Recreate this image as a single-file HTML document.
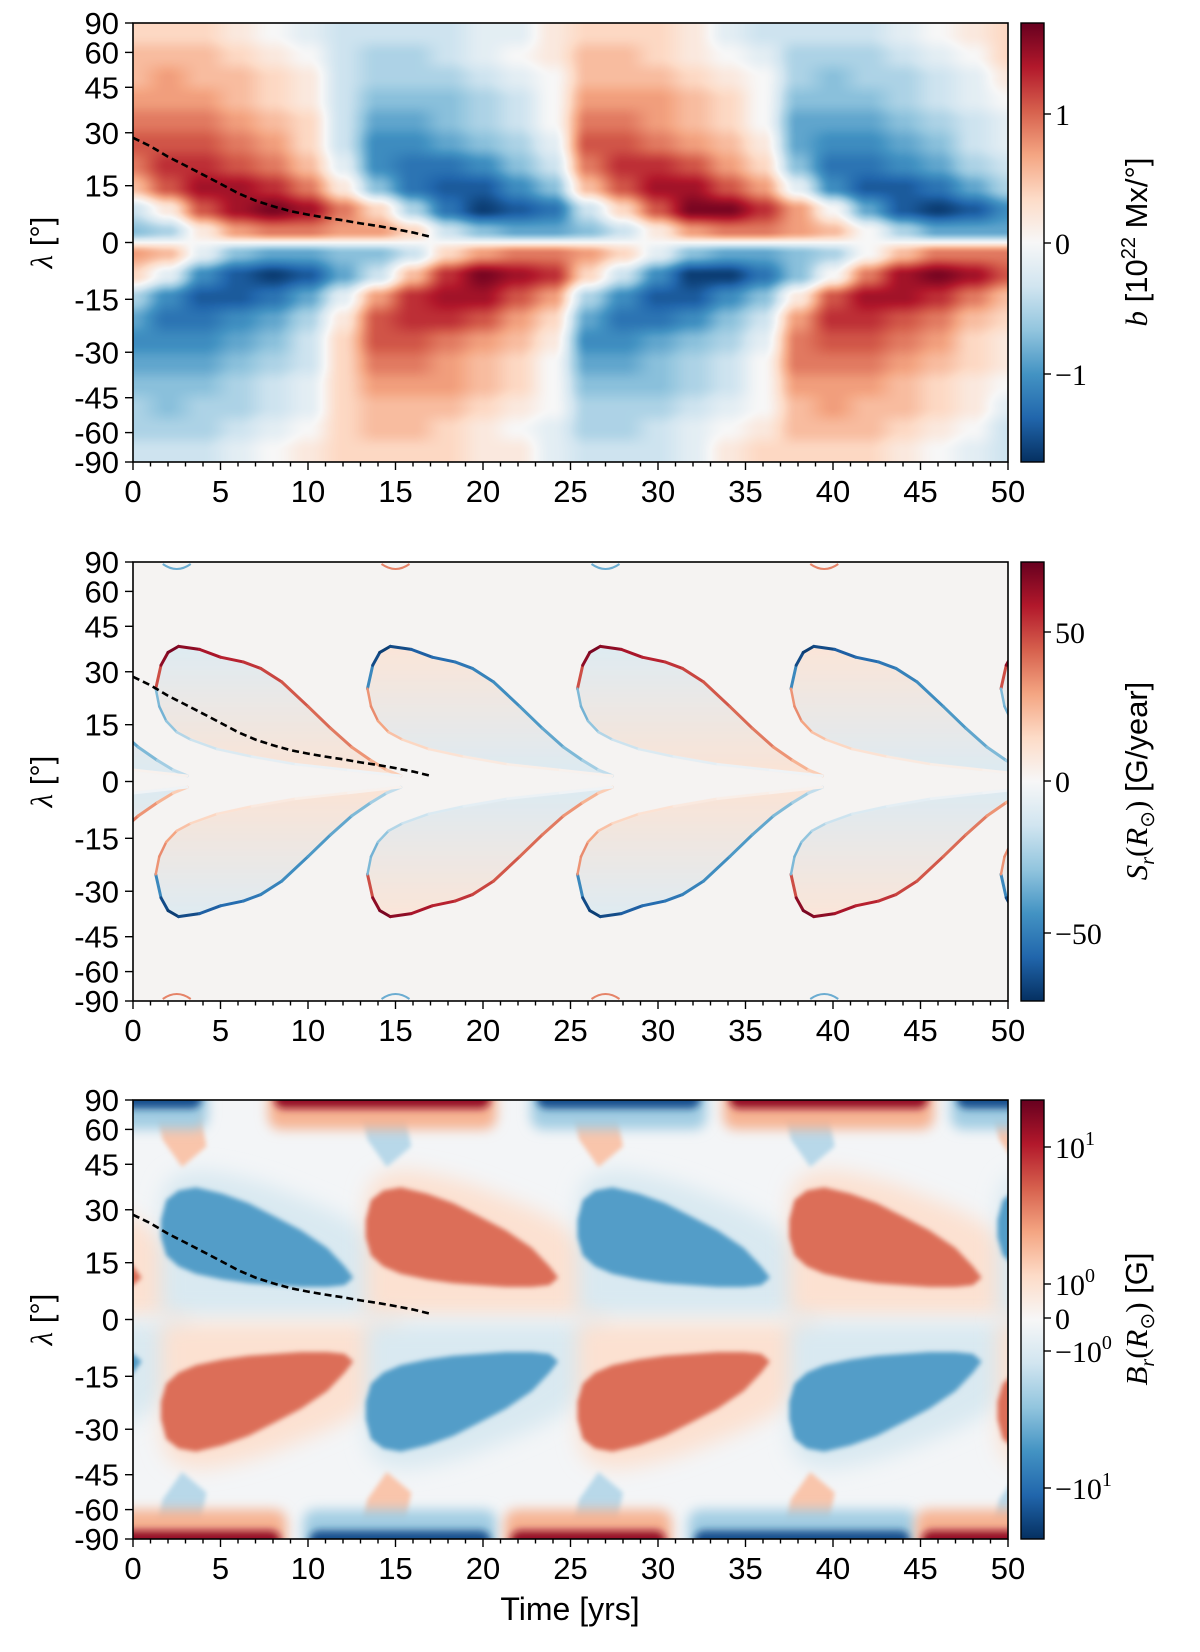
<!DOCTYPE html>
<html><head><meta charset="utf-8">
<style>
body{margin:0;background:#fff;width:1200px;height:1652px;position:relative;overflow:hidden}
#c1{position:absolute;left:133px;top:23px}
#s{position:absolute;left:0;top:0}
text{font-family:"Liberation Sans",sans-serif;fill:#000}
.m{font-family:"Liberation Serif",serif}
</style></head>
<body>
<canvas id="c1" width="875" height="439"></canvas>
<svg id="s" width="1200" height="1652" xmlns="http://www.w3.org/2000/svg"></svg>
<script>
// ---------- data ----------
const times=[0,2,4,6,8,10,12,14,16,18,20,22,24,26,28,30,32,34,36,38,40,42,44,46,48,50];
const p1Lats=[71.8,58.2,48.6,40.5,33.4,26.7,20.5,14.5,8.6,2.9];
const p1Cols=[
[2,3,3,4,5,6,5,3,-2,-4],[2,3,4,4,5,6,7,6,1,-3],[2,3,3,4,5,6,7,8,6,1],[1,2,3,3,4,5,6,8,8,4],
[0,1,2,2,3,4,5,7,9,5],[-1,0,1,1,2,2,3,5,8,5],[-2,-2,-2,-2,-2,-2,-1,1,5,4],[-2,-3,-3,-4,-5,-6,-6,-4,2,4],
[-2,-3,-3,-4,-5,-6,-7,-7,-3,2],[-2,-2,-3,-4,-4,-5,-7,-8,-7,-2],[-1,-1,-2,-3,-3,-4,-6,-8,-9,-4],[-1,0,-1,-2,-2,-3,-4,-6,-8,-5],
[1,1,0,0,0,-1,-2,-4,-7,-5],[2,3,3,4,5,6,5,3,-2,-4],[2,3,3,4,5,6,7,6,2,-2],[2,2,3,4,4,5,7,8,6,1],
[1,1,2,3,3,4,6,8,9,4],[-1,0,1,2,2,3,4,6,9,5],[-2,-1,0,0,0,1,2,4,7,5],[-2,-3,-3,-4,-5,-5,-4,-1,4,4],
[-2,-3,-4,-4,-5,-6,-7,-6,0,3],[-2,-3,-3,-4,-5,-6,-7,-8,-5,0],[-1,-2,-3,-3,-4,-5,-6,-8,-8,-3],[0,-1,-2,-2,-3,-4,-5,-7,-9,-5],
[1,0,-1,-1,-2,-2,-3,-5,-8,-5],[2,2,1,0,-1,-1,-2,-3,-6,-5]];
const p2Starts=[-10.9,1.3,13.4,25.4,37.6,49.6];
const p2Signs=[-1,1,-1,1,-1,1];
const p2UpDt=[0,0.3,0.7,1.3,2.5,3.7,5,6,7.2,8.7,10,11.2,12.3,13.2,14];
const p2UpLat=[25,32,36,38,37,34.5,33,31,27,20,14,9,5.5,3,1.5];
const p2UpVal=[0.45,0.85,0.95,0.95,0.85,0.8,0.75,0.7,0.65,0.6,0.55,0.5,0.4,0.3,0.2];
const p2LoDt=[0,0.2,0.6,1.2,2,3.5,5.5,8,11,14];
const p2LoLat=[25,20,16,13,11,8.5,6.5,4.5,3,1.5];
const p2LoVal=[0.4,0.5,0.45,0.35,0.25,0.18,0.12,0.08,0.05,0.03];
const p2CapT=[2.5,15,27,39.5];
const p2CapSign=[-1,1,-1,1];
const p3Starts=[-10.5,1.6,13.3,25.4,37.5,49.4];
const p3Signs=[1,-1,1,-1,1,-1];
const p3TopDt=[0,0.3,1,2,3.5,5,6.5,8,9.5,10.5,11];
const p3TopLat=[27,33,36,37,35,32,28,24,19,14,11];
const p3BotDt=[0,0.3,1,2,3.5,5,6.5,8,9.5,10.5,11];
const p3BotLat=[22,17,14,12,10.5,9.5,9,8.5,8.5,9,11];
const p3NCapStart=[-3,7.5,22.5,33.5,46.5];
const p3NCapEnd=[4.5,21,33,46,53];
const p3NCapSign=[-1,1,-1,1,-1];
const p3SCapStart=[-3,9.5,21,31.5,44.5];
const p3SCapEnd=[9,21,31,45,53];
const p3SCapSign=[1,-1,1,-1,1];
const ridgeT=[0,1,2,3,4,5,6,7,8,9,10,11,12,13,14,15,16,17];
const ridgeLat=[28.5,26,23,20.5,18,15.5,13,11,9.5,8.2,7.3,6.5,5.8,5,4.3,3.5,2.6,1.5];
const yTicks=[90,60,45,30,15,0,-15,-30,-45,-60,-90];
const xTicks=[0,5,10,15,20,25,30,35,40,45,50];

// ---------- helpers ----------
const L=133,W=875,H=439,tops=[23,562,1100];
const R=Math.PI/180;
function X(t){return L+t/50*W}
function Y(p,lat){return tops[p]+(1-Math.sin(lat*R))/2*H}
const CM=[[5,48,97],[33,102,172],[67,147,195],[146,197,222],[209,229,240],[247,247,247],[253,219,199],[244,165,130],[214,96,77],[178,24,43],[103,0,31]];
function cmA(v){v=Math.max(-1,Math.min(1,v));const f=(v+1)*5;const i=Math.min(9,Math.floor(f));const r=f-i;const a=CM[i],b=CM[i+1];return [a[0]+(b[0]-a[0])*r,a[1]+(b[1]-a[1])*r,a[2]+(b[2]-a[2])*r]}
function cm(v){const c=cmA(v);return 'rgb('+c.map(Math.round).join(',')+')'}
const NS='http://www.w3.org/2000/svg';
const svg=document.getElementById('s');
function mk(tag,parent){const e=document.createElementNS(NS,tag);(parent||svg).appendChild(e);return e}
function at(e,o){for(const k in o)e.setAttribute(k,o[k]);return e}

// ---------- panel 1 canvas ----------
(function(){
  const cv=document.getElementById('c1');const ctx=cv.getContext('2d');
  const img=ctx.createImageData(W,H);
  const sN=p1Lats.map(l=>Math.sin(l*R));
  const S=sN.concat(sN.slice().reverse().map(s=>-s));
  const cols=p1Cols.map(c=>c.concat(c.slice().reverse().map(v=>-v)));
  const rowJ=[],rowW=[];
  for(let y=0;y<H;y++){
    const s=1-2*(y+0.5)/H;let j=0,w=0;
    if(s>=S[0]){j=0;w=0}else if(s<=S[S.length-1]){j=S.length-2;w=1}
    else{for(j=0;j<S.length-1;j++){if(s<=S[j]&&s>=S[j+1])break}w=(S[j]-s)/(S[j]-S[j+1])}
    rowJ.push(j);rowW.push(w);
  }
  for(let x=0;x<W;x++){
    const t=(x+0.5)/W*50;let i=Math.min(times.length-2,Math.floor(t/2));let u=(t-times[i])/(times[i+1]-times[i]);
    u=u*u*(3-2*u);
    const a=cols[i],b=cols[i+1];
    for(let y=0;y<H;y++){
      const j=rowJ[y];let w=rowW[y];w=w*w*(3-2*w);
      const va=a[j]*(1-w)+a[j+1]*w, vb=b[j]*(1-w)+b[j+1]*w;
      const c=cmA((va*(1-u)+vb*u)/9.5);
      const k=(y*W+x)*4;img.data[k]=c[0];img.data[k+1]=c[1];img.data[k+2]=c[2];img.data[k+3]=255;
    }
  }
  ctx.putImageData(img,0,0);
})();

// ---------- defs ----------
const defs=mk('defs');
[[1,'b1'],[2.5,'b2'],[4,'b4'],[6,'b6'],[10,'b10']].forEach(([sd,id])=>{const f=at(mk('filter',defs),{id:id,x:'-50%',y:'-50%',width:'200%',height:'200%'});at(mk('feGaussianBlur',f),{stdDeviation:sd});});
for(let p=1;p<3;p++){const c=at(mk('clipPath',defs),{id:'clip'+p});at(mk('rect',c),{x:L,y:tops[p],width:W,height:H});}
const cbg=at(mk('linearGradient',defs),{id:'cbar',x1:0,y1:0,x2:0,y2:1});
for(let i=0;i<=10;i++){at(mk('stop',cbg),{offset:i/10,'stop-color':cm(1-i/5)});}
[1,-1].forEach(sg=>[1,-1].forEach(h=>{
  const g=at(mk('linearGradient',defs),{id:'g2_'+(sg>0?'p':'n')+(h>0?'N':'S'),x1:0,y1:0,x2:0,y2:1});
  const pole=cm(-sg*0.13),eq=cm(sg*0.14);
  at(mk('stop',g),{offset:0,'stop-color':h>0?pole:eq});
  at(mk('stop',g),{offset:1,'stop-color':h>0?eq:pole});
}));

// ---------- panel 2 ----------
const g2=mk('g');g2.setAttribute('clip-path','url(#clip1)');


at(mk('rect',g2),{x:L,y:tops[1],width:W,height:H,fill:'#f5f3f2'});
p2Starts.forEach((t0,k)=>{
  const sg=p2Signs[k];
  [1,-1].forEach(h=>{
    const up=p2UpDt.map((d,i)=>[X(t0+d),Y(1,h*p2UpLat[i])]);
    const lo=p2LoDt.map((d,i)=>[X(t0+d),Y(1,h*p2LoLat[i])]);
    const poly=mk('polygon',g2);
    
    
    at(poly,{points:up.concat(lo.slice().reverse()).map(p=>p.join(',')).join(' '),fill:'url(#g2_'+(sg>0?'p':'n')+(h>0?'N':'S')+')',filter:'url(#b1)'});
    for(let i=0;i<up.length-1;i++){
      const ln=mk('line',g2);
      
      
      at(ln,{x1:up[i][0],y1:up[i][1],x2:up[i+1][0],y2:up[i+1][1],stroke:cm(sg*h*(p2UpVal[i]+p2UpVal[i+1])/2),'stroke-width':3,'stroke-linecap':'round'});
    }
    for(let i=0;i<lo.length-1;i++){
      const ln=mk('line',g2);
      
      
      at(ln,{x1:lo[i][0],y1:lo[i][1],x2:lo[i+1][0],y2:lo[i+1][1],stroke:cm(-sg*h*(p2LoVal[i]+p2LoVal[i+1])/2),'stroke-width':2.5,'stroke-linecap':'round'});
    }
  });
});
p2CapT.forEach((t,k)=>{
  [1,-1].forEach(h=>{
    const e=mk('path',g2);
    
    
    const x=X(t),y=h>0?tops[1]+2:tops[1]+H-2;
    at(e,{d:'M'+(x-14)+','+y+' Q'+x+','+(y+h*10)+' '+(x+14)+','+y,fill:'none',stroke:cm(p2CapSign[k]*h*0.5),'stroke-width':2});
  });
});

// ---------- panel 3 ----------
const c3=at(mk('clipPath',defs),{id:'clip3'});at(mk('rect',c3),{x:L,y:tops[2],width:W,height:H});
const g3=mk('g');g3.setAttribute('clip-path','url(#clip3)');


at(mk('rect',g3),{x:L,y:tops[2],width:W,height:H,fill:'#f3f5f7'});
function blobPts(t0,h,dtA,latA,dl,ext){return dtA.map((d,i)=>[X(t0+d*ext),Y(2,h*(latA[i]+dl))])}
p3Starts.forEach((t0,k)=>{
  const sg=p3Signs[k];
  [1,-1].forEach(h=>{
    const up=blobPts(t0,h,p3TopDt,p3TopLat,6,1.2), lo=p3BotDt.map((d,i)=>[X(t0+d*1.25),Y(2,h*1)]);
    const hal=mk('polygon',g3);
    
    
    at(hal,{points:up.concat(lo.slice().reverse()).map(p=>p.join(',')).join(' '),fill:cm(sg*h*0.16),filter:'url(#b10)'});
    const wd=mk('polygon',g3);
    
    
    at(wd,{points:[[X(t0-0.4),Y(2,h*80)],[X(t0+0.8),Y(2,h*82)],[X(t0+2.2),Y(2,h*72)],[X(t0+2.6),Y(2,h*52)],[X(t0+1.2),Y(2,h*44)],[X(t0+0.1),Y(2,h*55)]].map(p=>p.join(',')).join(' '),fill:cm(-sg*h*0.28),filter:'url(#b2)'});
    const bu=blobPts(t0,h,p3TopDt,p3TopLat,0,1), bl=blobPts(t0,h,p3BotDt,p3BotLat,0,1);
    const b=mk('polygon',g3);
    
    
    at(b,{points:bu.concat(bl.slice().reverse()).map(p=>p.join(',')).join(' '),fill:cm(sg*h*0.56),filter:'url(#b2)'});
  });
});
function caps(st,en,sn,h){
  st.forEach((s,k)=>{
    const r1=mk('rect',g3);
    
    
    let y0=h>0?tops[2]-20:Y(2,-60), y1=h>0?Y(2,60):tops[2]+H+20;
    at(r1,{x:X(s)+4,y:y0,width:X(en[k])-X(s)-8,height:y1-y0,rx:12,fill:cm(sn[k]*0.35),filter:'url(#b6)'});
    const r=mk('rect',g3);
    
    
    y0=h>0?tops[2]-20:Y(2,-74); y1=h>0?Y(2,74):tops[2]+H+20;
    at(r,{x:X(s)+10,y:y0,width:X(en[k])-X(s)-20,height:y1-y0,rx:10,fill:cm(sn[k]*0.88),filter:'url(#b4)'});
  });
}
caps(p3NCapStart,p3NCapEnd,p3NCapSign,1);
caps(p3SCapStart,p3SCapEnd,p3SCapSign,-1);

// ---------- dashed ridge line, axes, colorbars ----------
const cbLabels=[
 {ticks:[[114,'1'],[243,'0'],[374,'−1']],name:'b-colorbar'},
 {ticks:[[632,'50'],[781,'0'],[933,'−50']],name:'sr-colorbar'},
 {ticks:[[1147,'10','1'],[1284,'10','0'],[1318,'0'],[1351,'−10','0'],[1488,'−10','1']],name:'br-colorbar'}];
for(let p=0;p<3;p++){
  const dl=mk('polyline');
  
  
  at(dl,{points:ridgeT.map((t,i)=>X(t)+','+Y(p,ridgeLat[i])).join(' '),fill:'none',stroke:'#000','stroke-width':2.6,'stroke-dasharray':'7,4'});
  const fr=mk('rect');
  
  
  at(fr,{x:L,y:tops[p],width:W,height:H,fill:'none',stroke:'#000','stroke-width':1.6});
  const bot=tops[p]+H;
  for(let t=0;t<=50;t++){
    const tk=mk('line');
    
    
    at(tk,{x1:X(t),x2:X(t),y1:bot,y2:bot+(t%5?4.5:8),stroke:'#000','stroke-width':1.4});
  }
  xTicks.forEach(t=>{
    const tx=mk('text');
    
    
    at(tx,{x:X(t),y:bot+40,'text-anchor':'middle','font-size':31});tx.textContent=t;
  });
  yTicks.forEach(l=>{
    const tk=mk('line');
    
    
    at(tk,{x1:L-8,x2:L,y1:Y(p,l),y2:Y(p,l),stroke:'#000','stroke-width':1.4});
    const tx=mk('text');
    
    
    at(tx,{x:L-14,y:Y(p,l)+11,'text-anchor':'end','font-size':31});tx.textContent=l;
  });
  const yl=mk('text');
  
  
  at(yl,{transform:'translate(52,'+(tops[p]+H/2)+') rotate(-90)','text-anchor':'middle','font-size':31});
  yl.innerHTML='<tspan class="m" font-style="italic">λ</tspan> [°]';
  const cb=mk('rect');
  
  
  at(cb,{x:1021,y:tops[p],width:23,height:H,fill:'url(#cbar)',stroke:'#000','stroke-width':1.4});
  cbLabels[p].ticks.forEach(tk=>{
    const ln=mk('line');
    
    
    at(ln,{x1:1044,x2:1051,y1:tk[0],y2:tk[0],stroke:'#000','stroke-width':1.4});
    const tx=mk('text');
    
    
    at(tx,{x:1055,y:tk[0]+11,'font-size':30,'class':'m'});
    tx.textContent=tk[1];
    if(tk[2]!==undefined){const s=mk('tspan',tx);at(s,{dy:-13,'font-size':20});s.textContent=tk[2];}
  });
}
const cbt=[
 {y:242,html:'<tspan class="m" font-style="italic">b</tspan> [10<tspan dy="-12" font-size="20">22</tspan><tspan dy="12"> Mx/°]</tspan>',name:'b-colorbar-title'},
 {y:781,html:'<tspan class="m" font-style="italic">S</tspan><tspan class="m" font-style="italic" font-size="20" dy="7">r</tspan><tspan class="m" dy="-7">(</tspan><tspan class="m" font-style="italic">R</tspan><tspan class="m" font-size="20" dy="7">⊙</tspan><tspan class="m" dy="-7">)</tspan> [G/year]',name:'sr-colorbar-title'},
 {y:1319,html:'<tspan class="m" font-style="italic">B</tspan><tspan class="m" font-style="italic" font-size="20" dy="7">r</tspan><tspan class="m" dy="-7">(</tspan><tspan class="m" font-style="italic">R</tspan><tspan class="m" font-size="20" dy="7">⊙</tspan><tspan class="m" dy="-7">)</tspan> [G]',name:'br-colorbar-title'}];
cbt.forEach(c=>{
  const t=mk('text');
  
  
  at(t,{transform:'translate(1147,'+c.y+') rotate(-90)','text-anchor':'middle','font-size':31});
  t.innerHTML=c.html;
});
const xt=mk('text');


at(xt,{x:570,y:1620,'text-anchor':'middle','font-size':32});xt.textContent='Time [yrs]';
</script>
</body></html>
